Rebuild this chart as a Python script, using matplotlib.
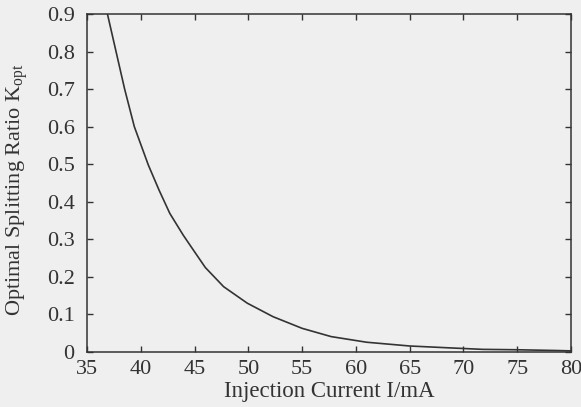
import matplotlib.pyplot as plt

plt.rcParams['font.family'] = ['Liberation Serif', 'DejaVu Serif']
plt.rcParams['mathtext.fontset'] = 'custom'
plt.rcParams['mathtext.rm'] = 'Liberation Serif'
plt.rcParams['mathtext.it'] = 'Liberation Serif'

# data
current = [36.9, 37.7, 38.5, 39.4, 40.7, 41.7, 42.7, 43.95, 44.9, 46.0, 47.7,
           49.9, 52.3, 55.0, 57.7, 61.0, 65.0, 68.7, 71.8, 74.9, 78.6, 80.0]
k_opt = [0.90, 0.80, 0.70, 0.60, 0.498, 0.431, 0.369, 0.311, 0.271, 0.225, 0.174,
         0.130, 0.094, 0.063, 0.041, 0.026, 0.016, 0.011, 0.007, 0.006, 0.004, 0.003]

bg = '#efefef'
ink = '#333333'

fig = plt.figure(figsize=(5.81, 4.07), dpi=100, facecolor=bg)
ax = fig.add_axes([87/581, 1-352/407, (571-87)/581, (352-14)/407])
ax.set_facecolor(bg)
ax.plot(current, k_opt, color=ink, lw=1.2)

ax.set_xlim(35, 80)
ax.set_ylim(0, 0.9)
ax.set_xticks(range(35, 81, 5))
ax.set_yticks([0, 0.1, 0.2, 0.3, 0.4, 0.5, 0.6, 0.7, 0.8, 0.9])
ax.set_yticklabels(['0', '0.1', '0.2', '0.3', '0.4', '0.5', '0.6', '0.7', '0.8', '0.9'])
ax.tick_params(direction='in', top=True, right=True, length=4, width=1,
               colors=ink, labelsize=16)
ax.tick_params(axis='x', pad=6)
ax.tick_params(axis='y', pad=9)
for s in ax.spines.values():
    s.set_color(ink)
    s.set_linewidth(1.1)

ax.set_xlabel('Injection Current I/mA', fontsize=16.5, color=ink, labelpad=1)
ax.set_ylabel(r'Optimal Splitting Ratio K$_{\mathrm{opt}}$', fontsize=16, color=ink)
ax.yaxis.set_label_coords(-0.117, 0.48)

fig.savefig('out.png', dpi=100, facecolor=bg)
